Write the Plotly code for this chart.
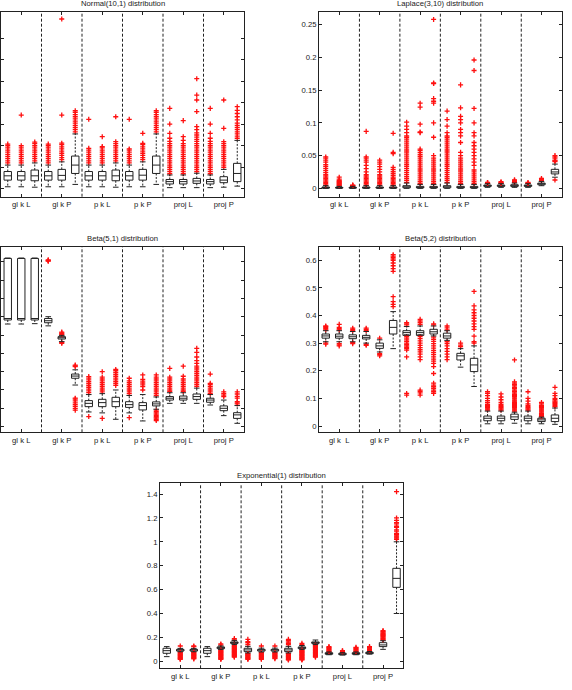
import plotly.graph_objects as go

# ---------------- data ----------------
group_labels = ["gl k L", "gl k P", "p k L", "p k P", "proj L", "proj P"]
group_labels_b52 = ["gl k\u00a0 L", "gl k P", "p k L", "p k P", "proj L", "proj P"]
titles = ["Normal(10,1) distribution", "Laplace(3,10) distribution",
          "Beta(5,1) distribution", "Beta(5,2) distribution",
          "Exponential(1) distribution"]
boxes_per_group = 3

# Normal(10,1)  (y axis unlabeled in the original; values in tick units)
normal_q1 = [0.40, 0.40, 0.37, 0.40, 0.40, 0.71, 0.40, 0.40, 0.37, 0.40, 0.40, 0.71, 0.22, 0.22, 0.25, 0.22, 0.28, 0.33]
normal_med = [0.60, 0.60, 0.60, 0.60, 0.62, 1.10, 0.60, 0.60, 0.60, 0.60, 0.63, 1.10, 0.33, 0.33, 0.36, 0.33, 0.40, 0.71]
normal_q3 = [0.80, 0.80, 0.87, 0.80, 0.90, 1.52, 0.80, 0.80, 0.87, 0.80, 0.90, 1.52, 0.43, 0.43, 0.48, 0.43, 0.56, 1.18]
normal_lo = [0.09, 0.09, 0.07, 0.09, 0.09, 0.20, 0.09, 0.09, 0.07, 0.09, 0.09, 0.20, 0.05, 0.05, 0.05, 0.05, 0.07, 0.12]
normal_hi = [1.10, 1.10, 1.20, 1.10, 1.25, 2.55, 1.10, 1.10, 1.20, 1.10, 1.25, 2.55, 0.64, 0.64, 0.72, 0.64, 0.90, 2.25]
normal_out = [
    [1.2, 1.3, 1.4, 1.5, 1.6, 1.7, 1.8, 1.9, 2.0, 2.08],
    [1.2, 1.3, 1.4, 1.5, 1.6, 1.7, 1.8, 1.9, 2.0, 3.43],
    [1.3, 1.4, 1.5, 1.6, 1.7, 1.8, 1.9, 2.0, 2.1, 2.17],
    [1.2, 1.3, 1.4, 1.5, 1.6, 1.7, 1.8, 1.9, 2.0, 2.08],
    [1.35, 1.45, 1.55, 1.65, 1.75, 1.85, 1.95, 2.05, 2.12, 3.43, 7.9],
    [2.65, 2.75, 2.85, 2.95, 3.05, 3.15, 3.25, 3.35, 3.45, 3.55, 3.63],
    [1.2, 1.3, 1.4, 1.5, 1.6, 1.7, 1.8, 1.88, 3.23],
    [1.2, 1.3, 1.4, 1.5, 1.6, 1.7, 1.8, 1.9, 1.96, 2.42],
    [1.3, 1.4, 1.5, 1.6, 1.7, 1.8, 1.9, 2.0, 2.1, 2.19, 3.35],
    [1.2, 1.3, 1.4, 1.5, 1.6, 1.7, 1.8, 1.85, 3.23],
    [1.35, 1.45, 1.55, 1.65, 1.75, 1.85, 1.95, 2.05, 2.11, 2.58],
    [2.65, 2.75, 2.85, 2.95, 3.05, 3.15, 3.25, 3.35, 3.45, 3.55, 3.63],
    [0.7, 0.8, 0.9, 1.0, 1.1, 1.2, 1.3, 1.4, 1.5, 1.6, 1.7, 1.8, 1.9, 2.0, 2.1, 2.2, 2.35, 2.58, 3.01, 3.74],
    [0.7, 0.8, 0.9, 1.0, 1.1, 1.2, 1.3, 1.4, 1.5, 1.6, 1.7, 1.8, 1.9, 2.0, 2.1, 2.25, 2.42, 3.17],
    [0.8, 0.9, 1.0, 1.1, 1.2, 1.3, 1.4, 1.5, 1.6, 1.7, 1.8, 1.9, 2.0, 2.1, 2.2, 2.3, 2.4, 2.5, 2.6, 2.75, 2.89, 3.59, 4.13, 4.36, 5.12],
    [0.7, 0.8, 0.9, 1.0, 1.1, 1.2, 1.3, 1.4, 1.5, 1.6, 1.7, 1.8, 1.9, 2.0, 2.1, 2.2, 2.35, 2.58, 3.01, 3.74],
    [1.0, 1.1, 1.2, 1.3, 1.4, 1.5, 1.6, 1.7, 1.8, 1.9, 2.0, 2.1, 2.19, 2.81, 4.13],
    [2.35, 2.45, 2.55, 2.65, 2.75, 2.85, 2.95, 3.05, 3.2, 3.35, 3.5, 3.65, 3.82],
]

# Laplace(3,10)
laplace_q1 = [0.0003, 0.0003, 0.0003, 0.0003, 0.0003, 0.0003, 0.0008, 0.0006, 0.0006, 0.0008, 0.0006, 0.0006, 0.003, 0.003, 0.003, 0.003, 0.0055, 0.022]
laplace_med = [0.001, 0.001, 0.001, 0.001, 0.001, 0.001, 0.002, 0.0015, 0.0015, 0.002, 0.0015, 0.0015, 0.004, 0.004, 0.004, 0.004, 0.007, 0.025]
laplace_q3 = [0.002, 0.0015, 0.0015, 0.002, 0.002, 0.002, 0.004, 0.003, 0.003, 0.004, 0.003, 0.003, 0.005, 0.005, 0.0055, 0.005, 0.008, 0.029]
laplace_lo = [0.0, 0.0, 0.0, 0.0, 0.0, 0.0, 0.0, 0.0, 0.0, 0.0, 0.0, 0.0, 0.0015, 0.0015, 0.0015, 0.0015, 0.004, 0.017]
laplace_hi = [0.004, 0.003, 0.003, 0.004, 0.004, 0.004, 0.008, 0.006, 0.006, 0.008, 0.006, 0.006, 0.007, 0.007, 0.008, 0.007, 0.0105, 0.037]
laplace_out = [
    [0.005, 0.007, 0.009, 0.011, 0.013, 0.015, 0.017, 0.019, 0.021, 0.024, 0.027, 0.03, 0.033, 0.036, 0.04, 0.043, 0.046, 0.048],
    [0.004, 0.005, 0.006, 0.007, 0.008, 0.009, 0.01, 0.011, 0.012, 0.014, 0.017],
    [0.0035, 0.004, 0.0045, 0.005],
    [0.005, 0.007, 0.009, 0.011, 0.013, 0.015, 0.017, 0.019, 0.021, 0.025, 0.03, 0.035, 0.04, 0.043, 0.046, 0.048, 0.087],
    [0.005, 0.007, 0.009, 0.011, 0.013, 0.015, 0.017, 0.019, 0.021, 0.025, 0.029, 0.033, 0.037, 0.04, 0.043],
    [0.005, 0.007, 0.009, 0.011, 0.013, 0.015, 0.017, 0.02, 0.023, 0.026, 0.029, 0.032, 0.053, 0.055, 0.084],
    [0.009, 0.012, 0.015, 0.018, 0.021, 0.024, 0.027, 0.03, 0.033, 0.036, 0.039, 0.042, 0.045, 0.048, 0.051, 0.054, 0.057, 0.06, 0.063, 0.066, 0.069, 0.072, 0.075, 0.078, 0.08, 0.085, 0.09, 0.095, 0.101],
    [0.007, 0.01, 0.013, 0.016, 0.019, 0.022, 0.025, 0.028, 0.031, 0.034, 0.037, 0.04, 0.043, 0.046, 0.049, 0.052, 0.055, 0.058, 0.06, 0.085, 0.086, 0.098, 0.124, 0.13],
    [0.007, 0.01, 0.013, 0.016, 0.019, 0.022, 0.025, 0.028, 0.031, 0.034, 0.037, 0.04, 0.043, 0.046, 0.05, 0.078, 0.1, 0.13, 0.133, 0.137, 0.16, 0.161, 0.258],
    [0.009, 0.012, 0.015, 0.018, 0.021, 0.024, 0.027, 0.03, 0.033, 0.036, 0.039, 0.042, 0.045, 0.048, 0.051, 0.054, 0.057, 0.06, 0.063, 0.066, 0.069, 0.072, 0.075, 0.078, 0.08, 0.085, 0.095, 0.105, 0.118],
    [0.007, 0.01, 0.013, 0.016, 0.019, 0.022, 0.025, 0.028, 0.031, 0.034, 0.037, 0.04, 0.043, 0.046, 0.05, 0.055, 0.07, 0.08, 0.085, 0.09, 0.1, 0.105, 0.11, 0.123, 0.158],
    [0.007, 0.01, 0.013, 0.016, 0.019, 0.022, 0.025, 0.028, 0.035, 0.04, 0.045, 0.05, 0.055, 0.06, 0.065, 0.07, 0.08, 0.085, 0.1, 0.122, 0.18, 0.196],
    [0.0075, 0.008, 0.0085, 0.009],
    [0.0075, 0.008, 0.009, 0.01],
    [0.009, 0.01, 0.011, 0.012, 0.013],
    [0.0075, 0.008, 0.009],
    [0.012, 0.013, 0.014, 0.015],
    [0.0127, 0.041, 0.042, 0.043, 0.046, 0.048, 0.05],
]

# Beta(5,1)  (y axis unlabeled in the original; values in tick units)
beta51_q1 = [5.82, 5.82, 5.82, 5.67, 4.78, 2.64, 1.09, 1.09, 1.09, 1.05, 0.91, 1.13, 1.45, 1.45, 1.49, 1.33, 0.87, 0.45]
beta51_med = [5.90, 5.90, 5.90, 5.78, 4.85, 2.76, 1.27, 1.31, 1.36, 1.20, 1.15, 1.24, 1.55, 1.55, 1.64, 1.45, 1.00, 0.64]
beta51_q3 = [9.18, 9.18, 9.18, 5.90, 4.91, 2.87, 1.42, 1.49, 1.60, 1.36, 1.31, 1.35, 1.64, 1.67, 1.78, 1.55, 1.13, 0.76]
beta51_lo = [5.60, 5.60, 5.62, 5.50, 4.64, 2.27, 0.80, 0.75, 0.40, 0.75, 0.31, 0.95, 1.27, 1.27, 1.27, 1.18, 0.60, 0.18]
beta51_hi = [9.20, 9.20, 9.20, 6.00, 4.98, 3.10, 1.75, 1.80, 2.00, 1.70, 1.75, 1.62, 1.85, 1.85, 2.10, 1.75, 1.45, 1.15]
beta51_out = [
    [],
    [],
    [],
    [9.03, 9.05, 9.07, 9.1],
    [5.02, 5.07, 5.12, 5.16, 4.58, 4.55],
    [3.27, 3.32, 3.36, 0.9, 1.0, 1.1, 1.2, 1.3, 1.4, 1.5, 1.55],
    [1.85, 1.95, 2.05, 2.15, 2.25, 2.35, 2.45, 2.55, 2.65, 2.73, 0.55],
    [1.9, 2.0, 2.1, 2.2, 2.3, 2.4, 2.5, 2.6, 2.7, 3.0, 0.45],
    [2.25, 2.35, 2.45, 2.55, 2.65, 2.75, 2.85, 2.95, 3.05, 3.12],
    [1.8, 1.9, 2.0, 2.1, 2.2, 2.3, 2.4, 2.5, 2.64, 0.49],
    [2.0, 2.18, 2.28, 2.38, 2.48, 2.58, 2.82],
    [1.7, 1.8, 1.9, 2.0, 2.1, 2.2, 2.3, 2.4, 2.5, 2.6, 2.7, 2.82, 0.33, 0.4, 0.47, 0.54, 0.61, 0.68, 0.75, 0.82, 0.9],
    [1.92, 2.0, 2.1, 2.2, 2.3, 2.4, 2.5, 2.6, 2.7, 3.18],
    [1.92, 2.0, 2.1, 2.2, 2.3, 2.4, 2.5, 2.6, 2.75, 3.3],
    [2.2, 2.3, 2.4, 2.5, 2.6, 2.7, 2.8, 2.9, 3.0, 3.1, 3.2, 3.3, 3.45, 3.6, 3.8, 4.05, 4.27],
    [1.8, 1.9, 2.0, 2.1, 2.2, 2.3, 2.36, 2.87],
    [1.64, 1.72, 1.8, 1.9],
    [1.24, 1.3, 1.36, 1.55, 1.65, 1.78, 1.9],
]

# Beta(5,2)
beta52_q1 = [0.318, 0.318, 0.316, 0.315, 0.281, 0.333, 0.328, 0.328, 0.333, 0.318, 0.239, 0.197, 0.019, 0.019, 0.024, 0.019, 0.016, 0.016]
beta52_med = [0.326, 0.325, 0.323, 0.321, 0.290, 0.357, 0.338, 0.338, 0.341, 0.326, 0.254, 0.221, 0.028, 0.028, 0.033, 0.028, 0.022, 0.028]
beta52_q3 = [0.333, 0.333, 0.330, 0.328, 0.300, 0.382, 0.345, 0.345, 0.350, 0.336, 0.263, 0.245, 0.036, 0.036, 0.043, 0.036, 0.028, 0.040]
beta52_lo = [0.305, 0.305, 0.305, 0.300, 0.268, 0.280, 0.330, 0.330, 0.326, 0.310, 0.213, 0.143, 0.008, 0.008, 0.010, 0.008, 0.008, 0.006]
beta52_hi = [0.345, 0.345, 0.342, 0.342, 0.312, 0.414, 0.360, 0.362, 0.362, 0.345, 0.280, 0.290, 0.054, 0.054, 0.050, 0.054, 0.032, 0.065]
beta52_out = [
    [0.348, 0.352, 0.356, 0.36, 0.362, 0.3, 0.296],
    [0.348, 0.352, 0.357, 0.368, 0.298, 0.294, 0.29],
    [0.345, 0.35, 0.354, 0.302, 0.298],
    [0.345, 0.35, 0.354, 0.295, 0.292],
    [0.318, 0.262, 0.258, 0.254],
    [0.432, 0.44, 0.45, 0.468, 0.56, 0.57, 0.58, 0.59, 0.6, 0.605, 0.61, 0.615, 0.62],
    [0.366, 0.37, 0.374, 0.324, 0.318, 0.312, 0.306, 0.3, 0.295, 0.29, 0.285, 0.28, 0.275, 0.25, 0.118, 0.112],
    [0.368, 0.374, 0.38, 0.386, 0.324, 0.316, 0.308, 0.3, 0.292, 0.284, 0.276, 0.268, 0.26, 0.25, 0.24, 0.13, 0.125, 0.12, 0.112],
    [0.366, 0.37, 0.322, 0.314, 0.306, 0.298, 0.29, 0.282, 0.274, 0.266, 0.258, 0.25, 0.242, 0.235, 0.227, 0.215, 0.19, 0.155, 0.148, 0.142, 0.136, 0.13, 0.124, 0.118],
    [0.348, 0.355, 0.362, 0.305, 0.298, 0.29, 0.28, 0.27, 0.26, 0.25, 0.24],
    [0.287, 0.293, 0.3],
    [0.3, 0.305, 0.325, 0.35, 0.36, 0.37, 0.38, 0.39, 0.4, 0.41, 0.42, 0.435, 0.487],
    [0.058, 0.062, 0.066, 0.07, 0.074, 0.078, 0.085, 0.092, 0.1, 0.11, 0.118, 0.124],
    [0.058, 0.062, 0.066, 0.07, 0.074, 0.078, 0.085, 0.095, 0.105, 0.116],
    [0.054, 0.058, 0.062, 0.066, 0.07, 0.074, 0.078, 0.082, 0.086, 0.09, 0.094, 0.098, 0.102, 0.106, 0.11, 0.115, 0.12, 0.125, 0.13, 0.135, 0.14, 0.145, 0.15, 0.155, 0.16, 0.239],
    [0.058, 0.062, 0.066, 0.07, 0.075, 0.08, 0.09, 0.1, 0.124],
    [0.034, 0.038, 0.042, 0.046, 0.05, 0.054, 0.058, 0.062, 0.066, 0.07, 0.075, 0.08, 0.085],
    [0.07, 0.074, 0.078, 0.082, 0.086, 0.09, 0.095, 0.1, 0.11, 0.118, 0.14],
]

# Exponential(1)
expo_q1 = [0.067, 0.086, 0.086, 0.067, 0.106, 0.150, 0.081, 0.086, 0.086, 0.081, 0.106, 0.150, 0.059, 0.056, 0.059, 0.064, 0.123, 0.619]
expo_med = [0.089, 0.095, 0.095, 0.089, 0.114, 0.156, 0.095, 0.095, 0.095, 0.095, 0.114, 0.156, 0.065, 0.061, 0.065, 0.070, 0.137, 0.694]
expo_q3 = [0.109, 0.100, 0.100, 0.109, 0.120, 0.162, 0.109, 0.100, 0.100, 0.109, 0.120, 0.162, 0.072, 0.067, 0.072, 0.075, 0.156, 0.778]
expo_lo = [0.039, 0.080, 0.080, 0.039, 0.100, 0.140, 0.070, 0.078, 0.078, 0.070, 0.100, 0.140, 0.055, 0.052, 0.055, 0.060, 0.100, 0.400]
expo_hi = [0.123, 0.108, 0.108, 0.123, 0.128, 0.175, 0.125, 0.110, 0.110, 0.125, 0.132, 0.178, 0.078, 0.072, 0.078, 0.082, 0.172, 1.000]
expo_out = [
    [],
    [0.128, 0.075, 0.07, 0.065, 0.06, 0.055, 0.05, 0.045, 0.04, 0.035, 0.03, 0.025, 0.02, 0.017],
    [0.128, 0.122, 0.075, 0.07, 0.065, 0.06, 0.055, 0.05, 0.045, 0.04, 0.035, 0.03, 0.025, 0.02],
    [],
    [0.145, 0.138, 0.095, 0.09, 0.085, 0.08, 0.075, 0.07, 0.065, 0.06, 0.055, 0.05, 0.045, 0.04, 0.035, 0.03, 0.025, 0.02, 0.017],
    [0.19, 0.18, 0.13, 0.125, 0.12, 0.115, 0.11, 0.105, 0.1, 0.095, 0.09, 0.085, 0.08, 0.075, 0.07, 0.065, 0.06, 0.055, 0.05, 0.045, 0.04, 0.035],
    [0.184, 0.165, 0.155, 0.14, 0.065, 0.06, 0.055, 0.05, 0.045, 0.04, 0.035, 0.03, 0.025, 0.02, 0.017],
    [0.128, 0.072, 0.067, 0.062, 0.057, 0.052, 0.047, 0.042, 0.037, 0.032, 0.027, 0.022, 0.017],
    [0.128, 0.072, 0.067, 0.062, 0.057, 0.052, 0.047, 0.042, 0.037, 0.032, 0.027, 0.022],
    [0.184, 0.172, 0.16, 0.15, 0.14, 0.065, 0.06, 0.055, 0.05, 0.045, 0.04, 0.035, 0.03, 0.025, 0.02, 0.015, 0.012],
    [0.15, 0.14, 0.095, 0.09, 0.085, 0.08, 0.075, 0.07, 0.065, 0.06, 0.055, 0.05, 0.045, 0.04, 0.035, 0.03, 0.025, 0.02, 0.015, 0.012],
    [0.135, 0.13, 0.125, 0.12, 0.115, 0.11, 0.105, 0.1, 0.095, 0.09, 0.085, 0.08, 0.075, 0.07, 0.065, 0.06, 0.055, 0.05, 0.045, 0.04, 0.035],
    [0.082, 0.088, 0.094, 0.1, 0.106, 0.112, 0.117, 0.123],
    [0.075, 0.08, 0.085, 0.089],
    [0.082, 0.088, 0.094, 0.1, 0.106, 0.112, 0.117],
    [0.086, 0.092, 0.098, 0.104, 0.11, 0.116, 0.123],
    [0.178, 0.184, 0.19, 0.196, 0.202, 0.208, 0.214, 0.22, 0.226, 0.232, 0.238, 0.244, 0.25, 0.257],
    [1.02, 1.03, 1.04, 1.05, 1.06, 1.07, 1.09, 1.1, 1.12, 1.13, 1.15, 1.16, 1.18, 1.2, 1.42],
]

# y tick values / labels
normal_ticks = [0, 1, 2, 3, 4, 5, 6, 7]
laplace_ticks = [0, 0.05, 0.1, 0.15, 0.2, 0.25]
laplace_ticktext = ["0", "0.05", "0.1", "0.15", "0.2", "0.25"]
beta51_ticks = [0, 1, 2, 3, 4, 5, 6, 7, 8, 9]
beta52_ticks = [0, 0.1, 0.2, 0.3, 0.4, 0.5, 0.6]
beta52_ticktext = ["0", "0.1", "0.2", "0.3", "0.4", "0.5", "0.6"]
expo_ticks = [0, 0.2, 0.4, 0.6, 0.8, 1.0, 1.2, 1.4]
expo_ticktext = ["0", "0.2", "0.4", "0.6", "0.8", "1", "1.2", "1.4"]

# ---------------- layout constants ----------------
W, H = 572, 690
FONT = "Liberation Sans, Arial, Helvetica, sans-serif"
FS = 7.7
TXT = "#1a1a1a"

n_boxes = len(group_labels) * boxes_per_group
positions = list(range(1, n_boxes + 1))
group_centers = [positions[g * boxes_per_group + 1] for g in range(len(group_labels))]
separators = [(positions[g * boxes_per_group - 1] + positions[g * boxes_per_group]) / 2
              for g in range(1, len(group_labels))]

panels = [
    dict(q1=normal_q1, med=normal_med, q3=normal_q3, lo=normal_lo, hi=normal_hi, out=normal_out,
         xdom=[1 / W, 244 / W], ydom=[1 - 196.7 / H, 1 - 11.7 / H], yr=[-0.372, 8.24],
         ticks=normal_ticks, ticktext=None, labels=group_labels, showy=False),
    dict(q1=laplace_q1, med=laplace_med, q3=laplace_q3, lo=laplace_lo, hi=laplace_hi, out=laplace_out,
         xdom=[319 / W, 561.7 / W], ydom=[1 - 196.7 / H, 1 - 11.7 / H], yr=[-0.0128, 0.2698],
         ticks=laplace_ticks, ticktext=laplace_ticktext, labels=group_labels, showy=True),
    dict(q1=beta51_q1, med=beta51_med, q3=beta51_q3, lo=beta51_lo, hi=beta51_hi, out=beta51_out,
         xdom=[1 / W, 244 / W], ydom=[1 - 432.3 / H, 1 - 246.7 / H], yr=[-0.31, 9.82],
         ticks=beta51_ticks, ticktext=None, labels=group_labels, showy=False),
    dict(q1=beta52_q1, med=beta52_med, q3=beta52_q3, lo=beta52_lo, hi=beta52_hi, out=beta52_out,
         xdom=[319 / W, 561.7 / W], ydom=[1 - 432.3 / H, 1 - 246.7 / H], yr=[-0.0228, 0.649],
         ticks=beta52_ticks, ticktext=beta52_ticktext, labels=group_labels_b52, showy=True),
    dict(q1=expo_q1, med=expo_med, q3=expo_q3, lo=expo_lo, hi=expo_hi, out=expo_out,
         xdom=[160 / W, 403.3 / W], ydom=[1 - 668.3 / H, 1 - 483.3 / H], yr=[-0.0586, 1.4895],
         ticks=expo_ticks, ticktext=expo_ticktext, labels=group_labels, showy=True),
]

fig = go.Figure()
layout = dict(
    width=W, height=H, margin=dict(l=0, r=0, t=0, b=0),
    paper_bgcolor="white", plot_bgcolor="white", showlegend=False,
    font=dict(family=FONT, size=FS, color=TXT),
    shapes=[], annotations=[],
)

for k, p in enumerate(panels, start=1):
    xa = "x" if k == 1 else f"x{k}"
    ya = "y" if k == 1 else f"y{k}"
    # outliers
    ox, oy = [], []
    for pos, vals in zip(positions, p["out"]):
        ox += [pos] * len(vals)
        oy += vals
    fig.add_trace(go.Scatter(
        x=ox, y=oy, mode="markers", xaxis=xa, yaxis=ya, hoverinfo="skip",
        marker=dict(symbol="cross-thin", size=3.6, color="#ff1010",
                    line=dict(color="#ff1010", width=1.3)),
    ))
    # whiskers (dashed)
    wx, wy = [], []
    for pos, a, b, c, d in zip(positions, p["q3"], p["hi"], p["q1"], p["lo"]):
        wx += [pos, pos, None, pos, pos, None]
        wy += [a, b, None, c, d, None]
    fig.add_trace(go.Scatter(
        x=wx, y=wy, mode="lines", xaxis=xa, yaxis=ya, hoverinfo="skip",
        line=dict(color="#222", width=1, dash="2px,1.5px"),
    ))
    # whisker caps
    fig.add_trace(go.Scatter(
        x=positions + positions, y=p["hi"] + p["lo"], mode="markers",
        xaxis=xa, yaxis=ya, hoverinfo="skip",
        marker=dict(symbol="line-ew", size=4, color="#222",
                    line=dict(color="#222", width=1)),
    ))
    # boxes
    fig.add_trace(go.Box(
        x=positions, q1=p["q1"], median=p["med"], q3=p["q3"],
        lowerfence=p["q1"], upperfence=p["q3"],
        xaxis=xa, yaxis=ya, width=0.55, whiskerwidth=0, boxpoints=False,
        line=dict(color="#222", width=1), fillcolor="rgba(255,255,255,0)",
        hoverinfo="skip",
    ))

    axis_common = dict(showline=True, linecolor="#222", linewidth=1, mirror="ticks",
                       ticks="inside", ticklen=3, tickcolor="#222", tickwidth=1,
                       showgrid=False, zeroline=False,
                       tickfont=dict(family=FONT, size=FS, color=TXT))
    layout["xaxis" if k == 1 else f"xaxis{k}"] = dict(
        axis_common, domain=p["xdom"], range=[0.5, n_boxes + 0.5],
        tickmode="array", tickvals=group_centers, ticktext=p["labels"],
        anchor=ya,
    )
    yax = dict(axis_common, domain=p["ydom"], range=p["yr"], tickmode="array",
               tickvals=p["ticks"], showticklabels=p["showy"], anchor=xa)
    if p["ticktext"] is not None:
        yax["ticktext"] = p["ticktext"]
    layout["yaxis" if k == 1 else f"yaxis{k}"] = yax

    for sx in separators:
        layout["shapes"].append(dict(
            type="line", xref=xa, yref=f"{ya} domain", x0=sx, x1=sx, y0=0, y1=1,
            line=dict(color="#222", width=1, dash="3px,2px"),
        ))
    top_px = (1 - p["ydom"][1]) * H
    layout["annotations"].append(dict(
        text=titles[k - 1], xref="paper", yref="paper",
        x=(p["xdom"][0] + p["xdom"][1]) / 2, y=1 - (top_px - 8) / H,
        xanchor="center", yanchor="middle", showarrow=False,
        font=dict(family=FONT, size=FS, color=TXT),
    ))

fig.update_layout(**layout)
fig.write_html("out.html")
